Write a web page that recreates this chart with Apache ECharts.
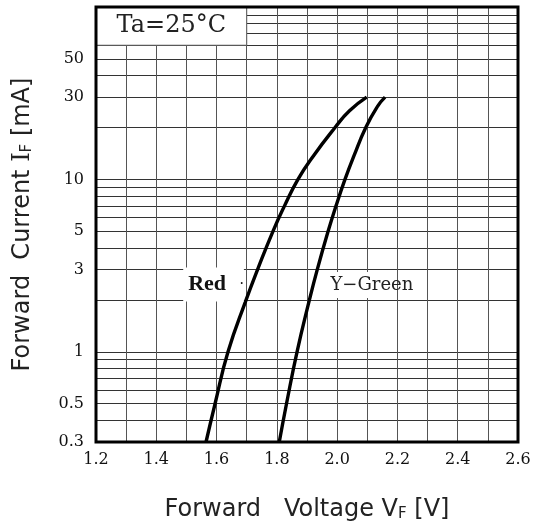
<!DOCTYPE html>
<html lang="en">
<head>
<meta charset="UTF-8">
<title>Forward Current vs Forward Voltage</title>
<script src="https://cdn.jsdelivr.net/npm/echarts@6/dist/echarts.min.js"></script>
<style>
    html, body { margin: 0; padding: 0; background: #fff; }
    #chart { width: 537px; height: 523px; }
</style>
</head>
<body>
<div id="chart"></div>
<script>
    // curve points: voltage [V] at each current [mA]
    const redVoltage = [1.565, 1.595, 1.638, 1.698, 1.736, 1.787, 1.825, 1.870, 1.920, 1.993, 2.041, 2.098];
    const redCurrent = [0.3, 0.5, 1, 2, 3, 5, 7, 10, 13.6, 20, 25, 30];
    const greenVoltage = [1.808, 1.832, 1.867, 1.908, 1.934, 1.970, 1.996, 2.026, 2.055, 2.095, 2.134, 2.159];
    const greenCurrent = [0.3, 0.5, 1, 2, 3, 5, 7, 10, 13.6, 20, 26.5, 30];

    // tick labels and grid lines
    const xTickLabels = [1.2, 1.4, 1.6, 1.8, 2.0, 2.2, 2.4, 2.6];
    const yTickLabels = [0.3, 0.5, 1, 3, 5, 10, 30, 50];
    const yGridLines = [0.4, 0.5, 0.6, 0.7, 0.8, 0.9, 1, 2, 3, 4, 5, 6, 7, 8, 9, 10, 20, 30, 40, 50, 60, 70, 80, 90];

    // label positions (V, mA)
    const noteBox = [[1.2, 60], [1.7, 100]];
    const redLabelAt = [1.59, 2.46];
    const greenLabelAt = [2.112, 2.44];

    const serif = 'DejaVu Serif';
    const sans = 'DejaVu Sans';

    function pairs(xs, ys) {
        return xs.map((x, i) => [x, ys[i]]);
    }

    const chart = echarts.init(document.getElementById('chart'));

    const titleRich = {
        t: { fontFamily: sans, fontSize: 24, color: '#222', verticalAlign: 'bottom' },
        i: { fontFamily: serif, fontSize: 24, color: '#222', verticalAlign: 'bottom' },
        s: { fontFamily: sans, fontSize: 15, color: '#222', verticalAlign: 'bottom' }
    };

    const option = {
        animation: false,
        backgroundColor: '#fff',
        grid: {
            left: 96, right: 19, top: 7, bottom: 81,
            outerBoundsMode: 'none',
            containLabel: false,
            show: true,
            borderColor: '#000',
            borderWidth: 3,
            backgroundColor: 'transparent',
            z: 5
        },
        xAxis: {
            type: 'value',
            min: 1.2,
            max: 2.6,
            interval: 0.1,
            name: '{t|Forward   Voltage V}{s|F}{t| [V]}',
            nameLocation: 'middle',
            nameGap: 56,
            nameTextStyle: { rich: titleRich },
            axisLine: { show: false },
            axisTick: { show: false },
            axisLabel: {
                customValues: xTickLabels,
                formatter: v => v.toFixed(1),
                fontFamily: serif,
                fontSize: 16,
                color: '#111',
                margin: 10
            },
            splitLine: { show: true, lineStyle: { color: '#555', width: 1 } }
        },
        yAxis: {
            type: 'log',
            logBase: 10,
            min: 0.3,
            max: 100,
            name: '{t|Forward  Current }{i|I}{s|F}{t| [mA]}',
            nameLocation: 'middle',
            nameGap: 61,
            nameTextStyle: { rich: titleRich },
            axisLine: { show: false },
            axisTick: { show: false, customValues: yGridLines },
            axisLabel: {
                customValues: yTickLabels,
                formatter: v => String(Math.round(v * 10) / 10),
                fontFamily: serif,
                fontSize: 16,
                color: '#111',
                margin: 12
            },
            splitLine: { show: true, lineStyle: { color: '#333', width: 1 } }
        },
        series: [
            {
                name: 'Red',
                type: 'line',
                z: 3,
                data: pairs(redVoltage, redCurrent),
                smooth: 0.5,
                showSymbol: false,
                lineStyle: { color: '#000', width: 3.4 },
                markArea: {
                    silent: true,
                    itemStyle: { color: '#fff', borderColor: '#555', borderWidth: 1 },
                    label: {
                        show: true,
                        position: 'inside',
                        formatter: 'Ta=25°C',
                        fontFamily: serif,
                        fontSize: 24,
                        color: '#222'
                    },
                    data: [[{ coord: noteBox[0] }, { coord: noteBox[1] }]]
                },
                markPoint: {
                    silent: true,
                    symbol: 'circle',
                    symbolSize: 1,
                    itemStyle: { color: 'rgba(0,0,0,0)' },
                    label: {
                        show: true,
                        position: 'inside',
                        formatter: '{r|Red}{d|   ·}',
                        backgroundColor: '#fff',
                        padding: [6, 0, 6, 5],
                        rich: {
                            r: { fontFamily: 'Liberation Serif', fontWeight: 'bold', fontSize: 22, color: '#111' },
                            d: { fontFamily: serif, fontSize: 14, color: '#111' }
                        }
                    },
                    data: [{ coord: redLabelAt }]
                }
            },
            {
                name: 'Y-Green',
                type: 'line',
                z: 3,
                data: pairs(greenVoltage, greenCurrent),
                smooth: 0.5,
                showSymbol: false,
                lineStyle: { color: '#000', width: 3.4 },
                markPoint: {
                    silent: true,
                    symbol: 'circle',
                    symbolSize: 1,
                    itemStyle: { color: 'rgba(0,0,0,0)' },
                    label: {
                        show: true,
                        position: 'inside',
                        formatter: '{w|Y\u2212Gr}{t|een}',
                        rich: {
                            w: { fontFamily: serif, fontSize: 18, color: '#222', backgroundColor: '#fff', padding: [4, 0, 4, 2] },
                            t: { fontFamily: serif, fontSize: 18, color: '#222' }
                        }
                    },
                    data: [{ coord: greenLabelAt }]
                }
            }
        ]
    };

    chart.setOption(option);
</script>
</body>
</html>
